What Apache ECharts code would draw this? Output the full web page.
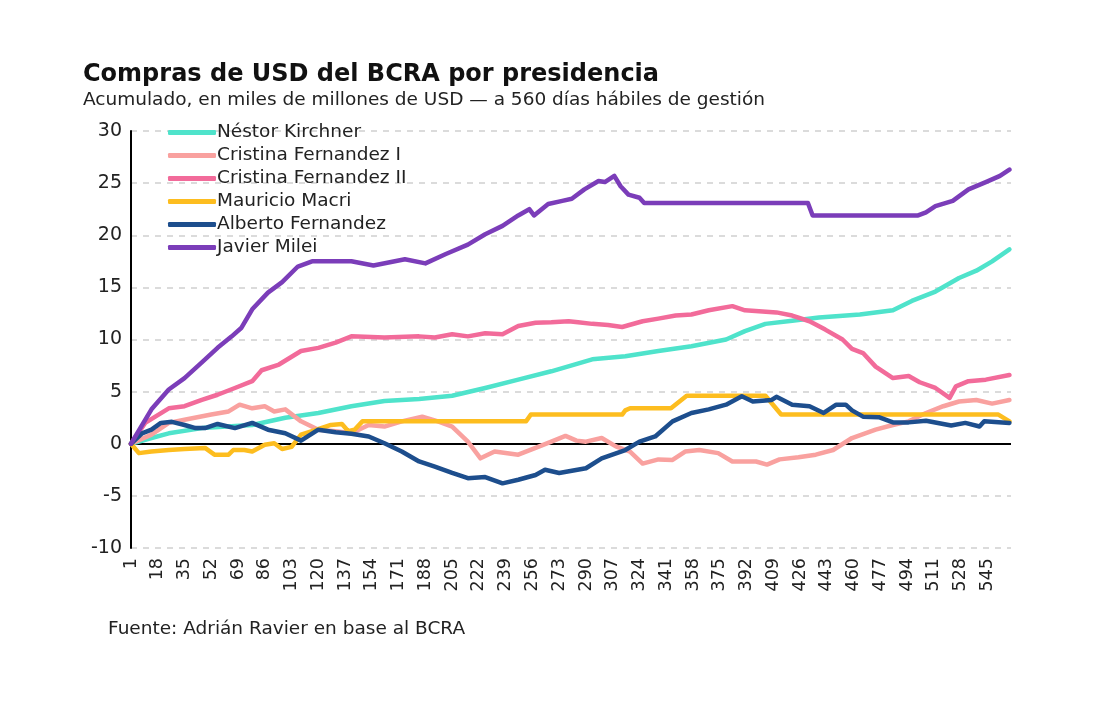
<!DOCTYPE html>
<html>
<head>
<meta charset="utf-8">
<script src="https://cdn.jsdelivr.net/npm/echarts@6/dist/echarts.min.js"></script>
<style>
html,body{margin:0;padding:0;background:#fff;}
#chart{width:1109px;height:707px;}
</style>
</head>
<body>
<div id="chart"></div>
<script>
// Tick labels / categories: business days 1..560
const categories = [];
for (let d = 1; d <= 560; d++) categories.push(String(d));

const seriesNames = ["Néstor Kirchner","Cristina Fernandez I","Cristina Fernandez II","Mauricio Macri","Alberto Fernandez","Javier Milei"];

const kirchnerDays = [1,14,25,46,78,99,120,141,162,184,205,226,247,268,294,315,336,357,379,391,404,421,438,464,485,497,512,527,538,548,559];
const kirchnerVals = [0,0.55,1.0,1.5,1.8,2.5,2.95,3.6,4.1,4.3,4.6,5.35,6.15,6.95,8.1,8.4,8.9,9.35,10.0,10.8,11.5,11.8,12.1,12.4,12.8,13.7,14.6,15.9,16.6,17.5,18.65];

const cfk1Days = [1,14,25,35,52,63,70,78,86,92,99,109,120,131,141,152,162,173,186,196,205,215,223,232,247,258,268,277,284,290,300,309,318,326,336,345,353,362,374,383,398,405,413,425,436,447,459,474,485,495,506,517,527,538,548,559];
const cfk1Vals = [0,0.87,2.0,2.3,2.8,3.1,3.75,3.4,3.6,3.1,3.3,2.15,1.35,1.2,1.0,1.8,1.65,2.15,2.6,2.15,1.65,0.2,-1.4,-0.75,-1.05,-0.4,0.2,0.75,0.3,0.2,0.55,-0.25,-0.75,-1.9,-1.5,-1.55,-0.75,-0.6,-0.9,-1.7,-1.7,-2.0,-1.5,-1.3,-1.05,-0.6,0.55,1.35,1.8,2.15,2.95,3.6,4.05,4.2,3.85,4.2];

const cfk2Days = [1,10,25,35,46,56,67,78,84,95,109,120,131,141,162,184,194,205,215,226,237,247,258,268,279,285,294,304,313,326,336,347,357,368,383,391,411,421,432,442,453,459,466,474,485,495,502,512,521,525,533,544,559];
const cfk2Vals = [0,2.0,3.4,3.6,4.2,4.7,5.35,6.0,7.05,7.6,8.9,9.2,9.7,10.3,10.2,10.3,10.2,10.5,10.3,10.6,10.5,11.3,11.6,11.65,11.75,11.65,11.5,11.4,11.2,11.75,12.0,12.3,12.4,12.8,13.2,12.8,12.6,12.3,11.75,10.95,10.0,9.1,8.7,7.4,6.3,6.5,5.9,5.35,4.4,5.5,6.0,6.15,6.6];

const macriDays = [1,6,14,25,35,48,54,63,66,73,78,86,92,97,103,109,116,128,135,139,143,148,252,255,313,315,318,344,354,404,414,552,559];
const macriVals = [0,-0.9,-0.75,-0.6,-0.5,-0.4,-1.05,-1.05,-0.6,-0.6,-0.75,-0.1,0.05,-0.5,-0.3,0.87,1.2,1.8,1.9,1.2,1.35,2.15,2.15,2.8,2.8,3.2,3.4,3.4,4.6,4.6,2.8,2.8,2.15];

const albertoDays = [1,8,14,20,27,35,42,48,56,67,78,88,99,109,120,131,141,152,162,173,184,194,205,215,226,237,247,258,264,273,290,300,315,324,334,345,357,368,379,389,396,408,411,421,432,441,449,455,459,466,476,485,495,506,522,531,540,543,559];
const albertoVals = [0,1.0,1.35,2.0,2.1,1.8,1.5,1.5,1.9,1.5,2.0,1.35,1.0,0.3,1.35,1.1,0.95,0.7,0.05,-0.75,-1.7,-2.2,-2.8,-3.3,-3.2,-3.8,-3.45,-3.0,-2.5,-2.8,-2.35,-1.4,-0.6,0.2,0.7,2.15,2.95,3.3,3.75,4.55,4.05,4.2,4.5,3.75,3.6,2.95,3.75,3.75,3.2,2.6,2.55,2.05,2.05,2.2,1.75,2.0,1.65,2.15,2.0];

const mileiDays = [1,14,25,35,46,56,65,71,78,88,97,107,116,124,141,155,175,188,201,215,226,237,247,254,257,266,275,281,289,298,302,308,312,317,324,327,431,434,501,506,512,523,533,544,553,559];
const mileiVals = [0,3.3,5.2,6.3,7.8,9.2,10.3,11.1,12.9,14.5,15.5,17.0,17.5,17.5,17.5,17.1,17.7,17.3,18.2,19.1,20.1,20.9,21.9,22.5,21.9,23.0,23.3,23.5,24.4,25.2,25.1,25.7,24.7,23.9,23.6,23.1,23.1,21.9,21.9,22.2,22.8,23.3,24.4,25.1,25.7,26.3];

const yTicks = {min: -10, max: 30, interval: 5};

const colors = ["#4FE3CB","#F9A19F","#F26B9A","#FDBD1F","#1D4E8D","#7B3DB9"];

function pairs(days, vals) { return days.map((d, i) => [d - 1, vals[i]]); }
const seriesData = [
  pairs(kirchnerDays, kirchnerVals),
  pairs(cfk1Days, cfk1Vals),
  pairs(cfk2Days, cfk2Vals),
  pairs(macriDays, macriVals),
  pairs(albertoDays, albertoVals),
  pairs(mileiDays, mileiVals)
];

const FONT = "'DejaVu Sans', sans-serif";
const chart = echarts.init(document.getElementById('chart'), null, {renderer: 'canvas'});

const series = seriesNames.map((name, i) => ({
  name: name,
  type: 'line',
  data: seriesData[i],
  symbol: 'none',
  showSymbol: false,
  smooth: false,
  z: 3 + i,
  lineStyle: {color: colors[i], width: 4.5, cap: 'round', join: 'round'},
  itemStyle: {color: colors[i]},
  emphasis: {disabled: true}
}));
series[0].markLine = {
  silent: true,
  symbol: 'none',
  label: {show: false},
  lineStyle: {color: '#000', width: 2, type: 'solid'},
  data: [{yAxis: 0}],
  z: 1
};

chart.setOption({
  animation: false,
  backgroundColor: '#fff',
  color: colors,
  title: {
    text: 'Compras de USD del BCRA por presidencia',
    subtext: 'Acumulado, en miles de millones de USD — a 560 días hábiles de gestión',
    left: 78, top: 58, itemGap: 4,
    textStyle: {fontFamily: FONT, fontSize: 24, fontWeight: 'bold', color: '#111'},
    subtextStyle: {fontFamily: FONT, fontSize: 18.5, color: '#222'}
  },
  legend: {
    orient: 'vertical', left: 163, top: 118,
    icon: 'roundRect',
    itemWidth: 48, itemHeight: 5, itemGap: 4,
    textStyle: {fontFamily: FONT, fontSize: 18.5, color: '#222', lineHeight: 19, padding: [0,0,0,-4]},
    data: seriesNames
  },
  grid: {left: 131, right: 98, top: 131, bottom: 159, containLabel: false},
  xAxis: {
    type: 'category',
    data: categories,
    boundaryGap: false,
    axisLine: {show: false, onZero: false},
    axisTick: {show: false},
    splitLine: {show: false},
    axisLabel: {interval: 16, rotate: 90, fontFamily: FONT, fontSize: 17.5, color: '#222', margin: 10}
  },
  yAxis: {
    type: 'value',
    min: yTicks.min, max: yTicks.max, interval: yTicks.interval,
    axisLine: {show: true, lineStyle: {color: '#000', width: 2}},
    axisTick: {show: false},
    axisLabel: {fontFamily: FONT, fontSize: 19, color: '#222', margin: 9},
    splitLine: {show: true, lineStyle: {color: '#cfcfcf', width: 1.5, type: [6, 6]}}
  },
  graphic: [{
    type: 'text', left: 108, top: 620,
    style: {text: 'Fuente: Adrián Ravier en base al BCRA', font: "18.5px 'DejaVu Sans', sans-serif", fill: '#222'}
  }],
  series: series
});
</script>
</body>
</html>
